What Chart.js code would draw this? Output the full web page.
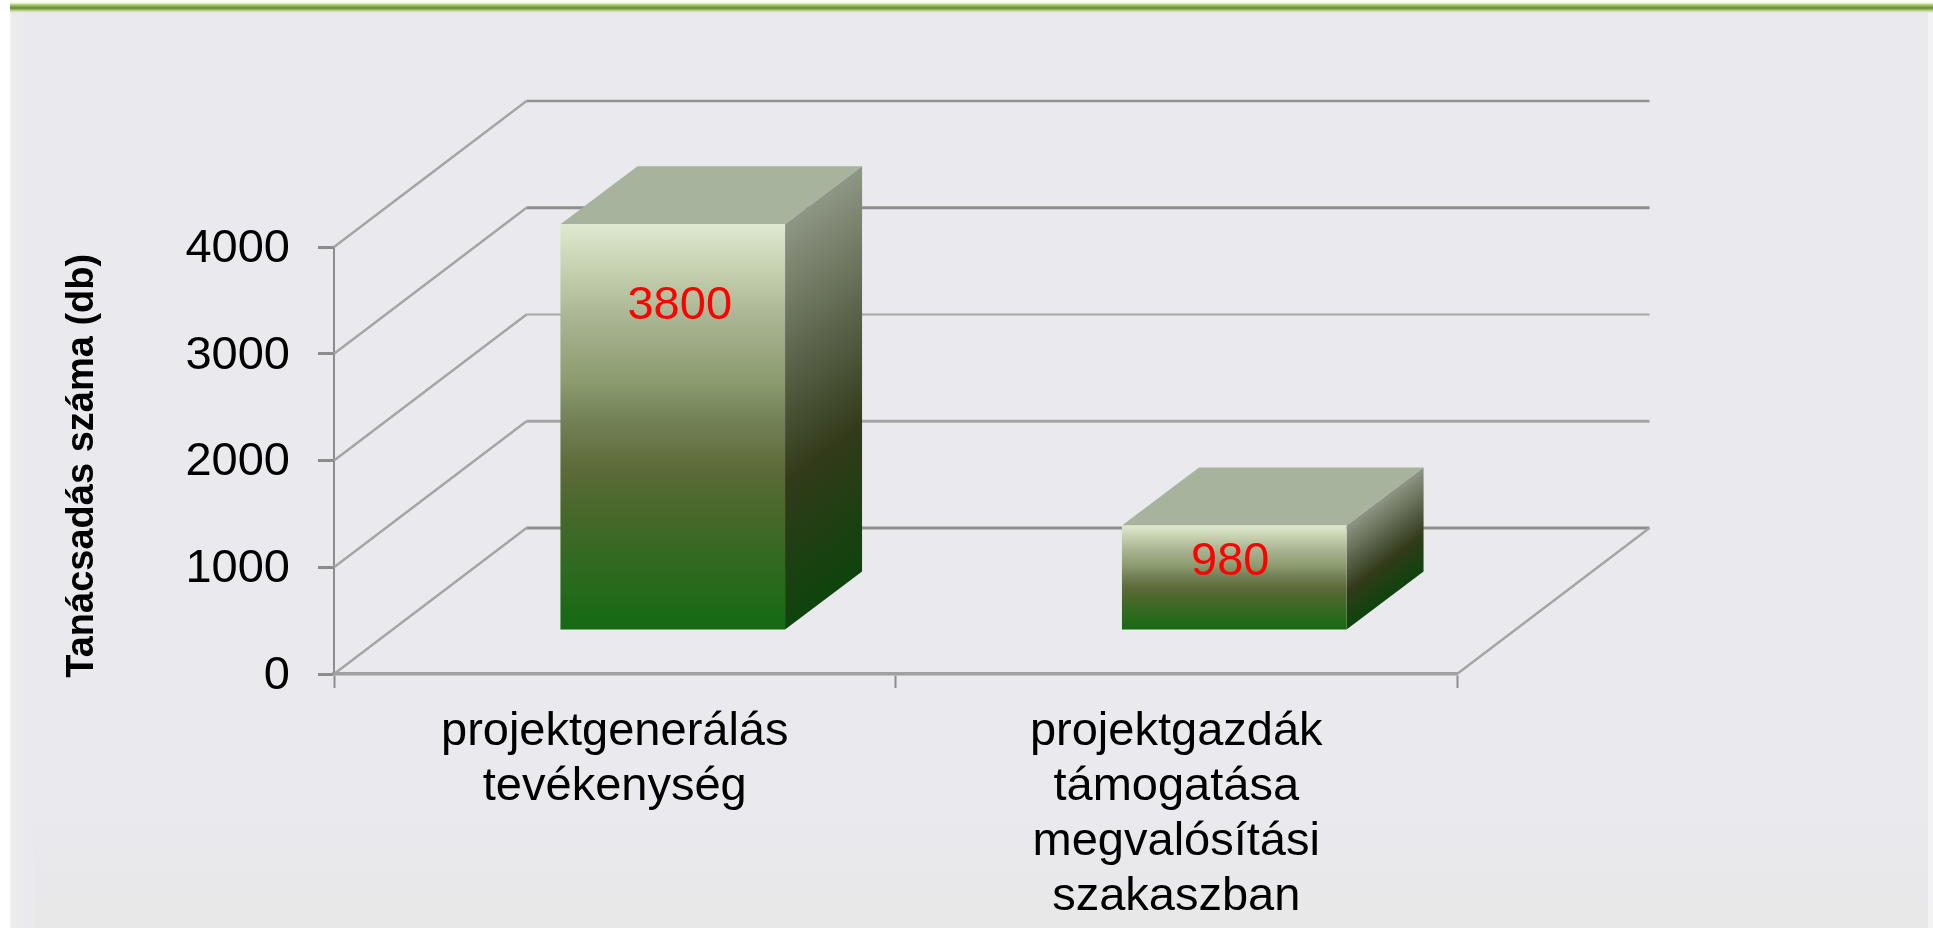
<!DOCTYPE html>
<html><head><meta charset="utf-8">
<style>
html,body{margin:0;padding:0;width:1933px;height:928px;overflow:hidden;background:#fff}
#bg{position:absolute;left:0;top:0;width:1933px;height:928px;background:linear-gradient(#e9e9ee 88%,#e8e8e8)}
#left{position:absolute;left:0;top:0;width:34px;height:928px;background:linear-gradient(90deg,#fff 0,#fff 9px,#ececec 11px,#e9e9ee 34px)}
#right{position:absolute;right:0;top:0;width:5px;height:928px;background:#f3f3f6}
#top{position:absolute;left:10px;top:0;width:1923px;height:13px;background:linear-gradient(#fff 0,#f4f9dc 3px,#a9c46a 5px,#64883a 8px,#a9c46a 10px,#e4e8d8 12px,#e9e9ee 13px)}
canvas{position:absolute;left:0;top:0}
</style>
<script src="https://cdn.jsdelivr.net/npm/chart.js@4"></script>
</head><body>
<div id="bg"></div><div id="left"></div><div id="right"></div><div id="top"></div>
<canvas id="c" width="1933" height="928"></canvas>
<script>
const categories = [["projektgenerálás","tevékenység"],["projektgazdák","támogatása","megvalósítási","szakaszban"]];
const seriesValues = [3800, 980];
const axisTitle = "Tanácsadás száma (db) ";
const yMax = 4000, yStep = 1000;

const WALL_DX = 192.5, WALL_DY = 146;   // depth of the 3D floor
const BAR_DX = 58, BAR_DY = 44;         // where the bars stand on the floor
const SIDE_DX = 77, SIDE_DY = 58;       // depth of each bar
const labelNudge = [[7,82],[-4,37]];    // value label offset from the top centre of the front face
const wallLineWidths = [3,3,1.8,3,2.6];
const wallLineColors = ["#8e8e8e","#a4a4a4","#a8a8a8","#8e8e8e","#929292"];

function frontGradient(ctx, top, bottom){
  const g = ctx.createLinearGradient(0, top, 0, bottom);
  [[0,"#dfe9d0"],[.146,"#bdc9a6"],[.228,"#aab594"],[.39,"#8b9b6e"],[.475,"#748358"],
   [.606,"#5c6a38"],[.72,"#466829"],[.844,"#2f6a20"],[1,"#156a12"]].forEach(s=>g.addColorStop(s[0],s[1]));
  return g;
}
function sideGradient(ctx, r, t, bt){
  // isolines run along the depth edge, so the gradient is perpendicular to it
  const len=(bt-t)*SIDE_DX/Math.hypot(SIDE_DX,SIDE_DY), n=Math.hypot(SIDE_DX,SIDE_DY);
  const g = ctx.createLinearGradient(r, t, r+len*SIDE_DY/n, t+len*SIDE_DX/n);
  g.addColorStop(0,"#8e9685"); g.addColorStop(.32,"#5f684f"); g.addColorStop(.64,"#323a1a"); g.addColorStop(1,"#0e440c");
  return g;
}
const wallPlugin = {
  id:"wall",
  beforeDatasetsDraw(chart){
    const {ctx, chartArea:a, scales:{y}} = chart;
    ctx.save();
    y.ticks.forEach((t,i)=>{
      const py = y.getPixelForValue(t.value);
      ctx.lineWidth = wallLineWidths[i];
      ctx.strokeStyle = wallLineColors[i];
      ctx.beginPath(); ctx.moveTo(a.left+WALL_DX, py-WALL_DY); ctx.lineTo(a.right+WALL_DX, py-WALL_DY); ctx.stroke();
      ctx.lineWidth = 2.4; ctx.strokeStyle = "#a4a4a4";
      ctx.beginPath(); ctx.moveTo(a.left, py); ctx.lineTo(a.left+WALL_DX, py-WALL_DY); ctx.stroke();
    });
    const y0 = y.getPixelForValue(0);
    ctx.beginPath(); ctx.moveTo(a.right, y0); ctx.lineTo(a.right+WALL_DX, y0-WALL_DY); ctx.stroke();
    // bar top and side faces, taken from the bar elements
    chart.getDatasetMeta(0).data.forEach(b=>{
      const l=b.x-b.width/2+BAR_DX, r=b.x+b.width/2+BAR_DX, t=b.y-BAR_DY, bt=b.base-BAR_DY;
      ctx.fillStyle="#a8b39d";
      ctx.beginPath(); ctx.moveTo(l,t); ctx.lineTo(l+SIDE_DX,t-SIDE_DY); ctx.lineTo(r+SIDE_DX,t-SIDE_DY); ctx.lineTo(r,t); ctx.closePath(); ctx.fill();
      ctx.fillStyle=sideGradient(ctx,r,t,bt);
      ctx.beginPath(); ctx.moveTo(r,t); ctx.lineTo(r+SIDE_DX,t-SIDE_DY); ctx.lineTo(r+SIDE_DX,bt-SIDE_DY); ctx.lineTo(r,bt); ctx.closePath(); ctx.fill();
    });
    ctx.restore();
    ctx.save(); ctx.translate(BAR_DX,-BAR_DY);
  },
  afterDatasetsDraw(chart){
    const {ctx} = chart;
    ctx.restore();
    ctx.save();
    ctx.fillStyle="#ff0000"; ctx.font='47px "Liberation Sans"'; ctx.textAlign="center"; ctx.textBaseline="middle";
    chart.getDatasetMeta(0).data.forEach((b,i)=>{
      ctx.fillText(String(seriesValues[i]), b.x+BAR_DX+labelNudge[i][0], b.y-BAR_DY+labelNudge[i][1]);
    });
    ctx.restore();
  }
};
new Chart(document.getElementById("c"),{
  type:"bar",
  data:{labels:categories,datasets:[{data:seriesValues,barPercentage:1,categoryPercentage:.4,borderWidth:0,
    backgroundColor(c){
      const ch=c.chart; if(!ch.chartArea||!ch.scales.y) return "#888";
      const y=ch.scales.y;
      return frontGradient(ch.ctx,y.getPixelForValue(c.raw),y.getPixelForValue(0));
    }}]},
  options:{responsive:false,animation:false,
    layout:{padding:{left:0,top:247,right:476,bottom:0}},
    plugins:{legend:{display:false},title:{display:false},tooltip:{enabled:false}},
    scales:{
      x:{type:"category",offset:true,
        grid:{offset:true,drawOnChartArea:false,drawTicks:true,tickLength:14,tickWidth:2,tickColor:"#8c8c8c"},
        border:{display:true,color:"#a0a0a0",width:3.5},
        ticks:{color:"#000",font:{family:"Liberation Sans",size:47,lineHeight:1.17},padding:17,maxRotation:0,autoSkip:false},
        afterFit(s){s.height=254;}},
      y:{min:0,max:yMax,
        grid:{drawOnChartArea:false,drawTicks:true,tickLength:16,tickWidth:3,tickColor:"#8c8c8c"},
        border:{display:true,color:"#8c8c8c",width:2},
        ticks:{stepSize:yStep,color:"#000",font:{family:"Liberation Sans",size:47},padding:28,labelOffset:2,callback:v=>String(v)},
        title:{display:true,text:axisTitle,color:"#000",font:{family:"Liberation Sans",size:38,weight:"bold"},padding:{top:60,bottom:0}},
        afterFit(s){s.width=334;}}
    }
  },
  plugins:[wallPlugin]
});
</script></body></html>
